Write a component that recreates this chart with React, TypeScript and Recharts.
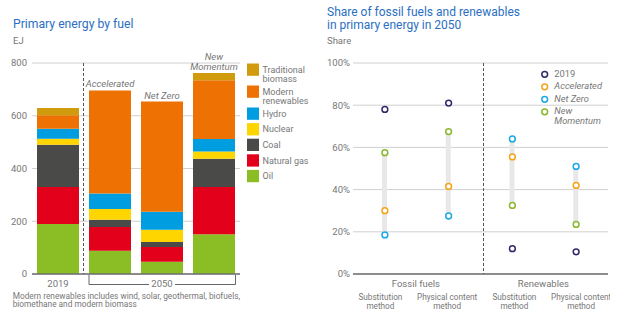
import { BarChart, Bar, XAxis, YAxis, CartesianGrid, ComposedChart, Line, LabelList } from 'recharts';

const FONT = 'Roboto, "Noto Sans", sans-serif';
const BLUE = '#2b6fc2';
const GREY = '#777';

// Primary energy by fuel (EJ)
const scenarios = ['2019', 'Accelerated', 'Net Zero', 'New Momentum'];
const oil = [190, 88, 46, 151];
const naturalGas = [140, 90, 56, 179];
const coal = [160, 28, 19, 107];
const nuclear = [23, 40, 47, 27];
const hydro = [38, 59, 68, 48];
const modernRenewables = [51, 391, 418, 223];
const traditionalBiomass = [27, 0, 0, 27];
const energyTicks = [0, 200, 400, 600, 800];

// Share of fossil fuels and renewables in 2050 (%)
const methods = ['Substitution method', 'Physical content method', 'Substitution method', 'Physical content method'];
const groups = ['Fossil fuels', 'Renewables'];
const share2019 = [78, 81, 12, 10.5];
const shareAccelerated = [30, 41.5, 55.5, 42];
const shareNetZero = [18.5, 27.5, 64, 51];
const shareNewMomentum = [57.5, 67.5, 32.5, 23.5];
const shareTicks = [0, 20, 40, 60, 80, 100];

const fuels = [
  { key: 'oil', name: 'Oil', color: '#8bbd24', values: oil },
  { key: 'gas', name: 'Natural gas', color: '#e2001a', values: naturalGas },
  { key: 'coal', name: 'Coal', color: '#4a4a48', values: coal },
  { key: 'nuclear', name: 'Nuclear', color: '#ffd500', values: nuclear },
  { key: 'hydro', name: 'Hydro', color: '#009ee0', values: hydro },
  { key: 'modern', name: 'Modern renewables', color: '#ee7203', values: modernRenewables },
  { key: 'trad', name: 'Traditional biomass', color: '#d09c0e', values: traditionalBiomass },
];

// scenario name goes on the topmost non-empty segment of each 2050 bar
const energyData = scenarios.map((s, i) => {
  const row: any = { scenario: s };
  let top = '';
  fuels.forEach((f) => {
    row[f.key] = f.values[i];
    if (f.values[i] > 0) top = f.key;
  });
  fuels.forEach((f) => (row['lbl_' + f.key] = i > 0 && f.key === top ? s : ''));
  return row;
});

const dotSeries = [
  { key: 's2019', name: '2019', color: '#2e2a6b', values: share2019, italic: false },
  { key: 'acc', name: 'Accelerated', color: '#f5a31a', values: shareAccelerated, italic: true },
  { key: 'nz', name: 'Net Zero', color: '#1ba8e6', values: shareNetZero, italic: true },
  { key: 'nm', name: 'New Momentum', color: '#8ab72b', values: shareNewMomentum, italic: true },
];

const shareData = methods.map((m, i) => {
  const sc = [shareAccelerated[i], shareNetZero[i], shareNewMomentum[i]];
  const lo = Math.min(...sc);
  const hi = Math.max(...sc);
  const row: any = { method: m, lo, span: hi - lo };
  dotSeries.forEach((d) => (row[d.key] = d.values[i]));
  return row;
});

const YearTick = ({ x, y, payload, index }: any) => {
  if (index !== 0) return null;
  return (
    <text x={x} y={y} dy={5} textAnchor="middle" fill={GREY} fontSize={9.5} fontFamily={FONT}>
      {payload.value}
    </text>
  );
};

const ScenarioLabel = ({ x, y, width, value }: any) => {
  if (!value) return null;
  const parts = value === 'New Momentum' ? ['New', 'Momentum'] : [value];
  const cx = x + width / 2;
  return (
    <text x={cx} y={y - 3 - (parts.length - 1) * 10} textAnchor="middle" fill={GREY} fontSize={9.5} fontStyle="italic" fontFamily={FONT}>
      {parts.map((p, i) => (
        <tspan key={i} x={cx} dy={i === 0 ? 0 : 10}>{p}</tspan>
      ))}
    </text>
  );
};

const methodShift = [-4.5, -1.5, 2, 5];

const MethodTick = ({ x, y, payload, index }: any) => {
  const words = payload.value.split(' ');
  const first = words.slice(0, -1).join(' ');
  const cx = x + methodShift[index];
  return (
    <g fontFamily={FONT}>
      {index % 2 === 0 && (
        <text x={x + 31} y={y} dy={5} textAnchor="middle" fill={GREY} fontSize={9.5}>
          {groups[index / 2]}
        </text>
      )}
      <text x={cx} y={y} textAnchor="middle" fill={GREY} fontSize={8.2}>
        <tspan x={cx} dy={18}>{first}</tspan>
        <tspan x={cx} dy={9}>method</tspan>
      </text>
    </g>
  );
};

export default function App() {
  let legendTop = 63.5;
  const legendRows = [...fuels].reverse().map((f) => {
    const lines = f.name === 'Natural gas' ? [f.name] : f.name.split(' ');
    const row = { ...f, lines, top: legendTop };
    legendTop += lines.length > 1 ? 22 : 15.6;
    return row;
  });

  return (
    <div style={{ position: 'absolute', left: 0, top: 0, width: 632, height: 322, background: '#fff', fontFamily: FONT }}>
      <div style={{ position: 'absolute', left: 13, top: 17, fontSize: 12.2, lineHeight: '14px', color: BLUE }}>Primary energy by fuel</div>
      <div style={{ position: 'absolute', left: 13, top: 35, fontSize: 9.5, lineHeight: '12px', color: GREY }}>EJ</div>
      <div style={{ position: 'absolute', left: 0, top: 0 }}>
        <BarChart width={245} height={322} data={energyData} margin={{ top: 63, right: 5, left: 0, bottom: 0 }}>
          <CartesianGrid vertical={false} stroke="#d0d0d0" />
          <XAxis dataKey="scenario" height={48} interval={0} axisLine={{ stroke: '#6f6f6f', strokeWidth: 1.5 }} tickLine={false} tick={<YearTick />} />
          <YAxis width={32} domain={[0, 800]} ticks={energyTicks} axisLine={false} tickLine={false} tickSize={0} tickMargin={5} tick={{ fill: GREY, fontSize: 9.5, fontFamily: FONT }} />
          {fuels.map((f) => (
            <Bar key={f.key} dataKey={f.key} stackId="e" fill={f.color} barSize={42} isAnimationActive={false}>
              <LabelList dataKey={'lbl_' + f.key} content={<ScenarioLabel />} />
            </Bar>
          ))}
        </BarChart>
      </div>
      {/* left legend */}
      <svg width={80} height={130} style={{ position: 'absolute', left: 240, top: 60 }}>
        {legendRows.map((f) => (
          <g key={f.key}>
            <rect x={7} y={f.top - 60} width={12} height={12.3} fill={f.color} />
            <text x={22.5} y={f.top - 60 + 9.2} fontSize={9} fill={GREY} fontFamily={FONT}>
              {f.lines.map((l, i) => (
                <tspan key={i} x={22.5} dy={i === 0 ? 0 : 9.4}>{l}</tspan>
              ))}
            </text>
          </g>
        ))}
      </svg>
      <svg width={260} height={30} style={{ position: 'absolute', left: 0, top: 290 }}>
        <text x={12.7} y={8.7} fontSize={8.3} fill={GREY} fontFamily={FONT}>
          <tspan x={12.7}>Modern renewables includes wind, solar, geothermal, biofuels,</tspan>
          <tspan x={12.7} dy={8.7}>biomethane and modern biomass</tspan>
        </text>
      </svg>

      <div style={{ position: 'absolute', left: 327, top: 5.8, fontSize: 12, lineHeight: '13.5px', color: BLUE }}>
        Share of fossil fuels and renewables
        <br />
        in primary energy in 2050
      </div>
      <div style={{ position: 'absolute', left: 327, top: 35, fontSize: 9.5, lineHeight: '12px', color: GREY }}>Share</div>
      <div style={{ position: 'absolute', left: 300, top: 0 }}>
        <ComposedChart width={310} height={322} data={shareData} margin={{ top: 63, right: 2, left: 0, bottom: 0 }}>
          <CartesianGrid vertical={false} stroke="#d0d0d0" />
          <XAxis dataKey="method" height={48} interval={0} axisLine={{ stroke: '#6f6f6f', strokeWidth: 1.5 }} tickLine={false} tick={<MethodTick />} />
          <YAxis width={53} domain={[0, 100]} ticks={shareTicks} tickFormatter={(v) => `${v}%`} axisLine={false} tickLine={false} tickSize={0} tickMargin={3} tick={{ fill: GREY, fontSize: 9.5, fontFamily: FONT }} />
          <Bar dataKey="lo" stackId="r" fill="transparent" barSize={5} isAnimationActive={false} />
          <Bar dataKey="span" stackId="r" fill="#e8e8e8" barSize={5} isAnimationActive={false} />
          {dotSeries.map((d) => (
            <Line key={d.key} dataKey={d.key} stroke="none" isAnimationActive={false} activeDot={false}
              dot={{ r: 2.9, fill: '#fff', stroke: d.color, strokeWidth: 1.5 }} />
          ))}
        </ComposedChart>
      </div>
      {/* right legend */}
      <svg width={80} height={70} style={{ position: 'absolute', left: 540, top: 66 }}>
        {dotSeries.map((d, i) => (
          <g key={d.key}>
            <circle cx={4.7} cy={8.3 + i * 12.5} r={2.9} fill="#fff" stroke={d.color} strokeWidth={1.5} />
            {d.name === 'New Momentum' ? (
              <text x={14.3} y={10.7 + i * 12.5} fontSize={9.3} fill={GREY} fontStyle="italic" fontFamily={FONT}>
                <tspan x={14.3}>New</tspan>
                <tspan x={14.3} dy={10}>Momentum</tspan>
              </text>
            ) : (
              <text x={14.3} y={10.7 + i * 12.5} fontSize={9.3} fill={GREY} fontStyle={d.italic ? 'italic' : 'normal'} fontFamily={FONT}>{d.name}</text>
            )}
          </g>
        ))}
      </svg>

      {/* separators and 2050 bracket */}
      <svg width={632} height={322} style={{ position: 'absolute', left: 0, top: 0, pointerEvents: 'none' }}>
        <line x1={83.5} y1={63} x2={83.5} y2={274} stroke="#555" strokeDasharray="3 2" />
        <line x1={483.5} y1={63} x2={483.5} y2={274} stroke="#555" strokeDasharray="3 2" />
        <polyline points="89,275 89,284.5 149,284.5" fill="none" stroke="#666" />
        <polyline points="175,284.5 235.5,284.5 235.5,275" fill="none" stroke="#666" />
        <text x={162} y={286.7} dy={0} textAnchor="middle" fontSize={9.5} fill={GREY} fontFamily={FONT}>2050</text>
      </svg>
    </div>
  );
}
